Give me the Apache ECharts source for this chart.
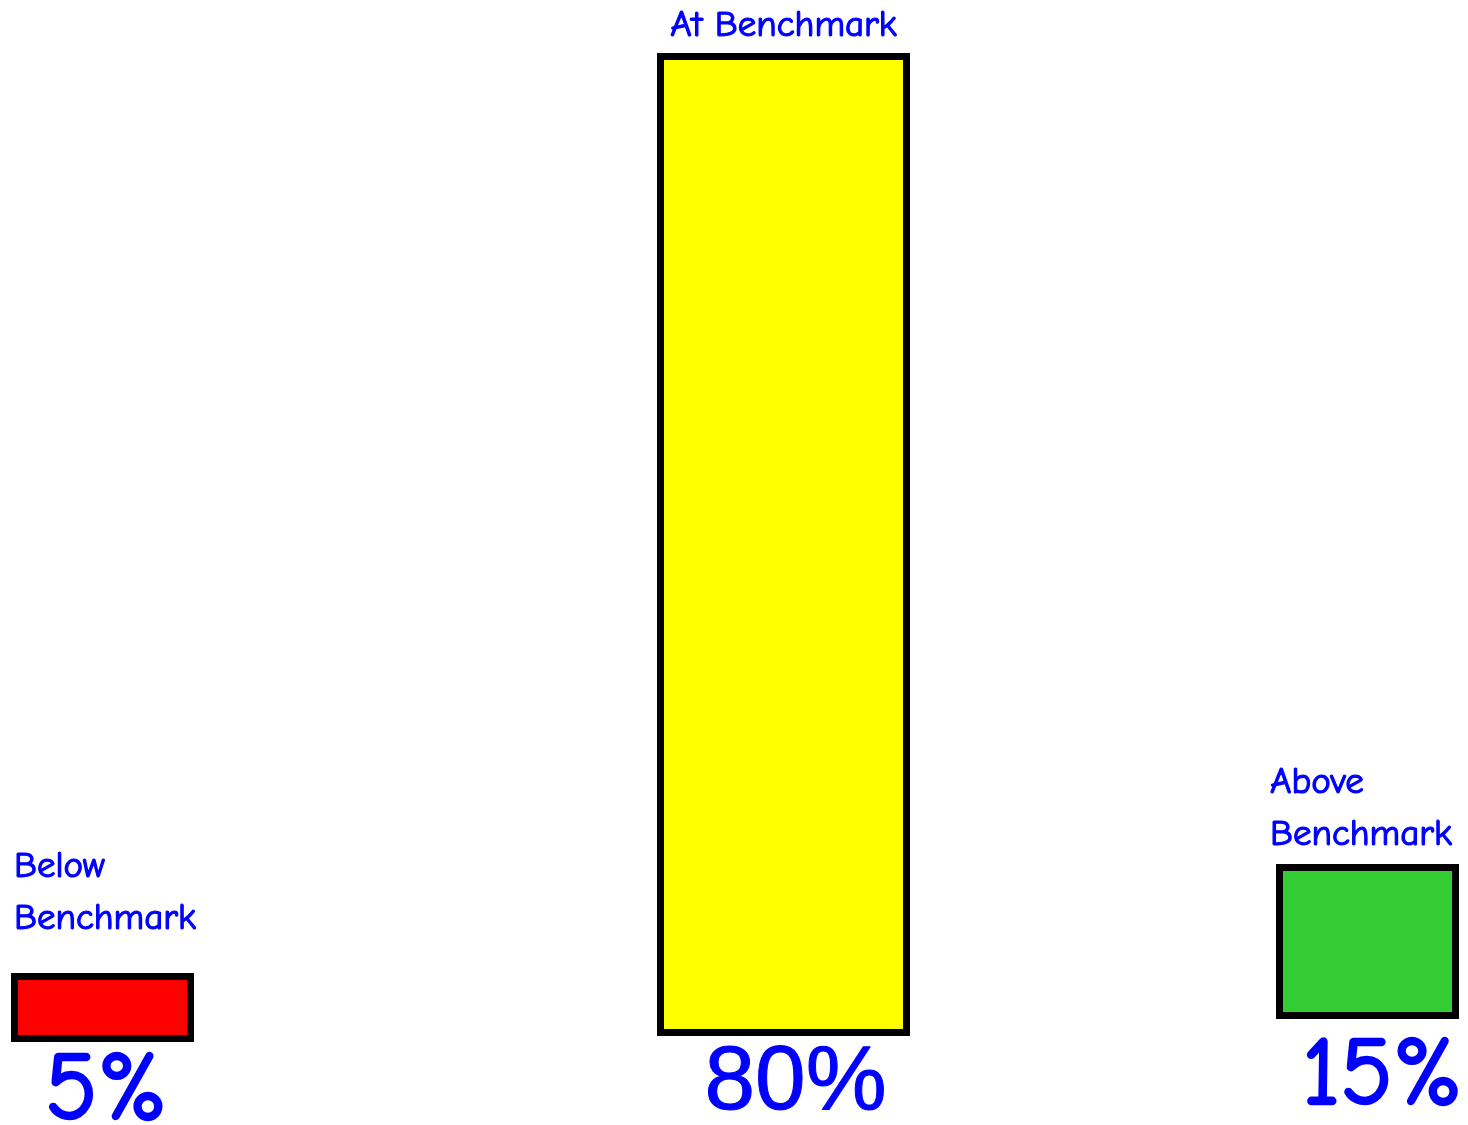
<!DOCTYPE html>
<html>
<head>
<meta charset="utf-8">
<title>Benchmark Results</title>
<script src="https://cdn.jsdelivr.net/npm/echarts@6/dist/echarts.min.js"></script>
<style>
  html, body { margin: 0; padding: 0; background: #ffffff; }
  #chart { width: 1468px; height: 1125px; }
</style>
</head>
<body>
<div id="chart"></div>
<script>
// Share of students in each benchmark band
const categories = ['Below\nBenchmark', 'At Benchmark', 'Above\nBenchmark'];
const shares = [5, 80, 15];
const barColors = ['#FF0000', '#FFFF00', '#33CC33'];
// value-axis ceiling of each band's panel
const axisMax = [50, 80, 50];

const comic = "'Comic Sans MS', 'Comic Neue', 'Noto Sans', sans-serif";
const plain = "'Liberation Sans', Arial, sans-serif";

// Each band sits in its own panel
const panels = [
  { left: 11, width: 183, bottom: 83, height: 690 },
  { left: 657, width: 253, bottom: 89, height: 983 },
  { left: 1276, width: 183, bottom: 106, height: 517 }
];

// Label placement per band
const nameLabels = [
  { position: [3, -28], align: 'left', verticalAlign: 'bottom' },
  { position: 'top', distance: 1 },
  { position: [-6, -3], align: 'left', verticalAlign: 'bottom' }
];
const valueLabels = [
  { distance: 1, offset: [4, 0], fontFamily: comic, fontSize: 97, stroke: 2.5 },
  { distance: 2, offset: [12, 0], fontFamily: plain, fontSize: 91, stroke: 1 },
  { distance: 9, offset: [15, 0], fontFamily: comic, fontSize: 97, stroke: 2.5 }
];

const grid = panels.map(p => ({ left: p.left, width: p.width, bottom: p.bottom, height: p.height }));
const xAxis = categories.map((c, i) => ({
  type: 'category', gridIndex: i, data: [c], show: false
}));
const yAxis = categories.map((c, i) => ({
  type: 'value', gridIndex: i, min: 0, max: axisMax[i], show: false
}));

const series = [];
categories.forEach((c, i) => {
  // the bar itself, with its percentage underneath
  series.push({
    type: 'bar',
    xAxisIndex: i, yAxisIndex: i,
    barWidth: '100%',
    data: [shares[i]],
    itemStyle: { color: barColors[i], borderColor: '#000000', borderWidth: 7 },
    label: {
      show: true,
      position: 'bottom',
      distance: valueLabels[i].distance,
      offset: valueLabels[i].offset,
      formatter: '{c}%',
      color: '#0000FF',
      fontFamily: valueLabels[i].fontFamily,
      fontWeight: 'normal',
      fontSize: valueLabels[i].fontSize,
      lineHeight: valueLabels[i].fontSize,
      textBorderColor: '#0000FF',
      textBorderWidth: valueLabels[i].stroke
    },
    silent: true,
    animation: false
  });
  // band name above the bar
  series.push({
    type: 'bar',
    xAxisIndex: i, yAxisIndex: i,
    barWidth: '100%',
    barGap: '-100%',
    data: [shares[i]],
    itemStyle: { color: 'transparent' },
    label: Object.assign({
      show: true,
      formatter: c,
      color: '#0000FF',
      fontFamily: comic,
      fontWeight: 'normal',
      fontSize: 37,
      lineHeight: 52,
      textBorderColor: '#0000FF',
      textBorderWidth: 1.2
    }, nameLabels[i]),
    silent: true,
    animation: false
  });
});

const chart = echarts.init(document.getElementById('chart'));
chart.setOption({
  backgroundColor: '#ffffff',
  animation: false,
  grid: grid,
  xAxis: xAxis,
  yAxis: yAxis,
  series: series
});
</script>
</body>
</html>
